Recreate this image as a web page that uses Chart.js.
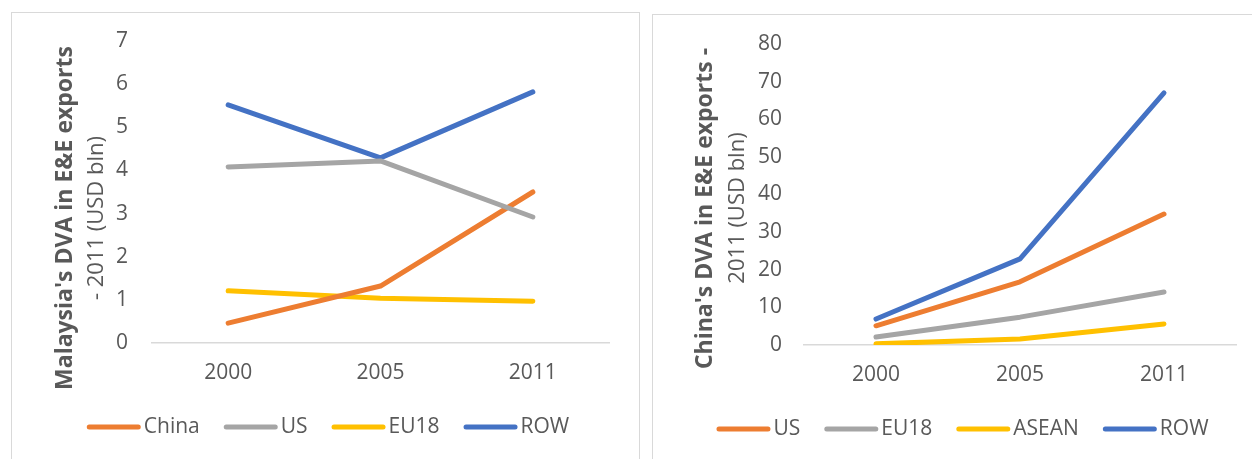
<!DOCTYPE html>
<html>
<head>
<meta charset="utf-8">
<script src="https://cdn.jsdelivr.net/npm/chart.js@4/dist/chart.umd.min.js"></script>
<style>
  html, body { margin: 0; padding: 0; background: #fff; overflow: hidden; }
  body { width: 1252px; height: 459px; position: relative; }
  .box { position: absolute; border: 1px solid #d9d9d9; border-bottom: none; background: #fff; }
  #boxA { left: 11px; top: 12px; width: 627px; height: 460px; }
  #boxB { left: 652px; top: 14px; width: 619px; height: 460px; }
  canvas { display: block; }
</style>
</head>
<body>
<div class="box" id="boxA"><canvas id="malaysia" width="627" height="446"></canvas></div>
<div class="box" id="boxB"><canvas id="china" width="619" height="444"></canvas></div>
<script>
// Years on the category axis
const years = ['2000', '2005', '2011'];

// Malaysia's domestic value added in E&E exports by destination (USD bln)
const myChina = [0.46, 1.32, 3.5];
const myUS    = [4.08, 4.22, 2.92];
const myEU18  = [1.21, 1.04, 0.97];
const myROW   = [5.52, 4.29, 5.82];
const myTitle = ["Malaysia's DVA in E&E exports", "- 2011 (USD bln)"];

// China's domestic value added in E&E exports by destination (USD bln)
const cnUS    = [5.1, 16.8, 34.8];
const cnEU18  = [2.1, 7.4, 14.1];
const cnASEAN = [0.3, 1.6, 5.6];
const cnROW   = [6.9, 22.9, 67.0];
const cnTitle = ["China's DVA in E&E exports -", "2011 (USD bln)"];

const ORANGE = '#ED7D31', GREY = '#A5A5A5', GOLD = '#FFC000', BLUE = '#4472C4';
const TEXT = '#595959';
const FONT = 'Open Sans';

// Two-line rotated axis title: bold first line, regular second line
const sideTitle = {
  id: 'sideTitle',
  afterDraw(chart, args, opts) {
    const ctx = chart.ctx;
    ctx.save();
    ctx.fillStyle = TEXT;
    ctx.textAlign = 'center';
    ctx.textBaseline = 'alphabetic';
    opts.lines.forEach(l => {
      ctx.save();
      ctx.translate(l.x, l.y);
      ctx.rotate(-Math.PI / 2);
      ctx.font = l.font;
      ctx.fillText(l.text, 0, 0);
      ctx.restore();
    });
    ctx.restore();
  }
};

// Legend drawn as short round-capped line swatches followed by the series name
const lineLegend = {
  id: 'lineLegend',
  afterDraw(chart, args, opts) {
    const ctx = chart.ctx;
    ctx.save();
    ctx.font = opts.font;
    const items = chart.data.datasets.map(ds => ({
      label: ds.label, color: ds.borderColor, w: ctx.measureText(ds.label).width
    }));
    const total = items.reduce((s, it) => s + opts.lineLen + opts.gap + it.w, 0)
                + opts.spacing * (items.length - 1);
    let x = opts.cx - total / 2;
    const r = opts.lineWidth / 2;
    items.forEach(it => {
      ctx.strokeStyle = it.color;
      ctx.lineWidth = opts.lineWidth;
      ctx.lineCap = 'round';
      ctx.beginPath();
      ctx.moveTo(x + r, opts.y);
      ctx.lineTo(x + opts.lineLen - r, opts.y);
      ctx.stroke();
      x += opts.lineLen + opts.gap;
      ctx.fillStyle = TEXT;
      ctx.textAlign = 'left';
      ctx.textBaseline = 'middle';
      ctx.fillText(it.label, x, opts.y);
      x += it.w + opts.spacing;
    });
    ctx.restore();
  }
};

function makeChart(id, cfg) {
  return new Chart(document.getElementById(id), {
    type: 'line',
    data: {
      labels: years,
      datasets: cfg.series.map(s => ({
        label: s.label,
        data: s.data,
        order: s.order,
        borderColor: s.color,
        backgroundColor: s.color,
        borderWidth: 5,
        borderCapStyle: 'round',
        borderJoinStyle: 'round',
        pointRadius: 0,
        pointHoverRadius: 0,
        tension: 0,
        fill: false
      }))
    },
    options: {
      responsive: false,
      animation: false,
      events: [],
      layout: { padding: { left: 0, top: cfg.top, right: cfg.right, bottom: cfg.bottom } },
      plugins: {
        legend: { display: false },
        tooltip: { enabled: false },
        sideTitle: { lines: cfg.titleLines },
        lineLegend: {
          font: '21px "' + FONT + '"', lineLen: 54, lineWidth: 5, gap: 3, spacing: 24,
          cx: cfg.legendX, y: cfg.legendY
        }
      },
      scales: {
        x: {
          offset: true,
          grid: { display: false, drawTicks: false },
          border: { display: true, color: '#d9d9d9', width: 1.5 },
          ticks: { color: TEXT, font: { family: FONT, size: 21 }, padding: 17, maxRotation: 0 },
          afterFit(s) { s.height = 45; }
        },
        y: {
          min: 0,
          max: cfg.max,
          grid: { display: false, drawTicks: false },
          border: { display: false },
          ticks: { stepSize: cfg.step, color: TEXT, font: { family: FONT, size: 21 }, padding: cfg.tickPad },
          // fixed axis width; the plot top/bottom come from the layout padding only
          afterFit(s) { s.width = cfg.yWidth; s.paddingTop = 0; s.paddingBottom = 0; }
        }
      }
    },
    plugins: [sideTitle, lineLegend]
  });
}

makeChart('malaysia', {
  series: [
    { label: 'China', data: myChina, color: ORANGE, order: 1 },
    { label: 'US',    data: myUS,    color: GREY,   order: 0 },
    { label: 'EU18',  data: myEU18,  color: GOLD,   order: 2 },
    { label: 'ROW',   data: myROW,   color: BLUE,   order: 3 }
  ],
  max: 7, step: 1, tickPad: 24, yWidth: 140,
  top: 28, right: 30, bottom: 71,
  legendX: 316, legendY: 414,
  titleLines: [
    { text: myTitle[0], font: 'bold 23px "' + FONT + '"', x: 60, y: 205 },
    { text: myTitle[1], font: '22px "' + FONT + '"', x: 91, y: 205 }
  ]
});

makeChart('china', {
  series: [
    { label: 'US',    data: cnUS,    color: ORANGE, order: 0 },
    { label: 'EU18',  data: cnEU18,  color: GREY,   order: 1 },
    { label: 'ASEAN', data: cnASEAN, color: GOLD,   order: 2 },
    { label: 'ROW',   data: cnROW,   color: BLUE,   order: 3 }
  ],
  max: 80, step: 10, tickPad: 22, yWidth: 151,
  top: 29, right: 36, bottom: 69,
  legendX: 309.5, legendY: 414,
  titleLines: [
    { text: cnTitle[0], font: 'bold 23px "' + FONT + '"', x: 59, y: 193.5 },
    { text: cnTitle[1], font: '22px "' + FONT + '"', x: 91, y: 193 }
  ]
});
</script>
</body>
</html>
